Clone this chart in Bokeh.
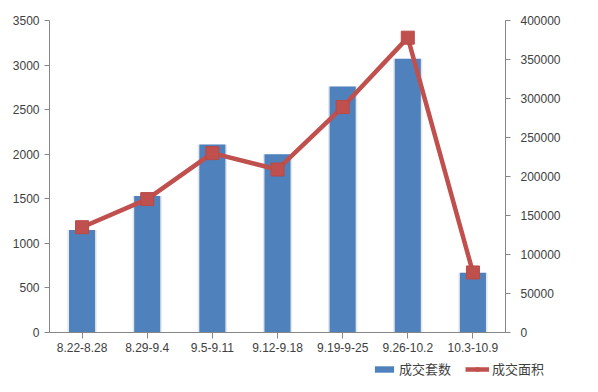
from bokeh.plotting import figure
from bokeh.layouts import column
from bokeh.models import (FactorRange, Range1d, LinearAxis, Legend, LegendItem,
                          FixedTicker, ColumnDataSource, BasicTickFormatter)
from bokeh.embed import file_html
from bokeh.resources import INLINE

categories = ["8.22-8.28", "8.29-9.4", "9.5-9.11", "9.12-9.18", "9.19-9-25", "9.26-10.2", "10.3-10.9"]
units_sold = [1150, 1530, 2110, 2000, 2760, 3070, 670]
area_sold = [135000, 171000, 230000, 209000, 289000, 378000, 77000]
left_ticks = [0, 500, 1000, 1500, 2000, 2500, 3000, 3500]
right_ticks = [0, 50000, 100000, 150000, 200000, 250000, 300000, 350000, 400000]
series_names = ["成交套数", "成交面积"]

FONT = "Liberation Sans, Noto Sans CJK SC"
TXT = "#404040"
AX = "#868686"
BLUE = "#4f81bd"
RED = "#c0504d"

src = ColumnDataSource(dict(cat=categories, units=units_sold, area=area_sold))

p = figure(x_range=FactorRange(*categories, range_padding=0), y_range=Range1d(0, 3500),
           output_backend="svg", toolbar_location=None,
           min_border_left=49, min_border_right=77, min_border_top=20, min_border_bottom=26)
p.frame_width = 456
p.frame_height = 312
p.extra_y_ranges = {"area": Range1d(0, 400000)}
p.outline_line_color = None
p.xgrid.visible = False
p.ygrid.visible = False

# shadow + bars
p.vbar(x="cat", top="units", width=0.45, source=src, fill_color="#e4e8ee", line_color=None)
p.vbar(x="cat", top="units", width=0.40, source=src, fill_color=BLUE, line_color=None)

p.line(x="cat", y="area", source=src, y_range_name="area", line_color=RED, line_width=4.5)
p.scatter(x="cat", y="area", source=src, y_range_name="area", marker="square", size=13,
          fill_color=RED, line_color="#b84a47")

p.yaxis[0].ticker = FixedTicker(ticks=left_ticks)

r_ax = LinearAxis(y_range_name="area", ticker=FixedTicker(ticks=right_ticks),
                  formatter=BasicTickFormatter(use_scientific=False))
p.add_layout(r_ax, "right")

for ax in [p.xaxis[0], p.yaxis[0], r_ax]:
    ax.axis_line_color = AX
    ax.major_tick_line_color = AX
    ax.minor_tick_line_color = None
    ax.major_label_text_font = FONT
    ax.major_label_text_font_size = "12px"
    ax.major_label_text_color = TXT
    ax.major_tick_out = 5
    ax.major_tick_in = 0

p.xaxis[0].major_tick_out = 6
p.xaxis[0].major_label_standoff = 4
p.yaxis[0].major_label_standoff = 5
r_ax.major_label_standoff = 10

# legend strip below the chart (proxy glyphs lie outside the visible range)
lf = figure(width=582, height=30, output_backend="svg", toolbar_location=None,
            x_range=Range1d(0, 1), y_range=Range1d(0, 1), min_border=0)
lf.frame_width = 582
lf.frame_height = 30
lf.axis.visible = False
lf.grid.visible = False
lf.outline_line_color = None
proxy = ColumnDataSource(dict(x=[5, 6], y=[5, 6]))
lb = lf.vbar(x="x", top="y", width=0.4, source=proxy, fill_color=BLUE, line_color=None)
ll = lf.line(x="x", y="y", source=proxy, line_color=RED, line_width=4.5)
lm = lf.scatter(x="x", y="y", source=proxy, marker="square", size=9, fill_color=RED, line_color=RED)

legend = Legend(items=[LegendItem(label=series_names[0], renderers=[lb]),
                       LegendItem(label=series_names[1], renderers=[ll, lm])],
                orientation="horizontal", location=(372, 10),
                label_text_font=FONT, label_text_font_size="13px", label_text_color=TXT,
                glyph_width=24, glyph_height=8, border_line_color=None, background_fill_alpha=0,
                spacing=14, padding=2, margin=0, label_standoff=3)
lf.add_layout(legend, "center")

layout = column(p, lf, spacing=0)
open("out.html", "w").write(file_html(layout, INLINE))
